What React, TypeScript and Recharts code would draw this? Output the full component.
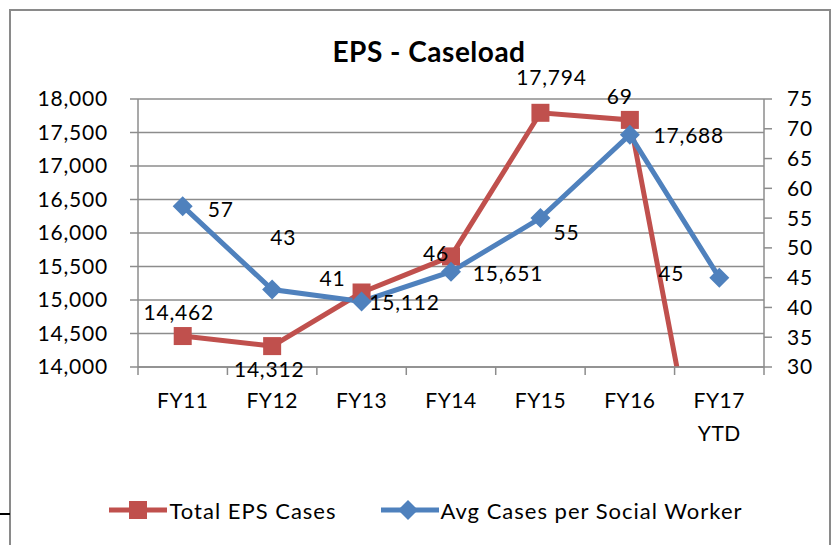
import React from 'react';
import { ComposedChart, Line, XAxis, YAxis, CartesianGrid, Legend, LabelList } from 'recharts';

const categories = ['FY11', 'FY12', 'FY13', 'FY14', 'FY15', 'FY16', 'FY17\nYTD'];
const totalEpsCases = [14462, 14312, 15112, 15651, 17794, 17688, 10670];
const avgCasesPerWorker = [57, 43, 41, 46, 55, 69, 45];
const leftTicks = [14000, 14500, 15000, 15500, 16000, 16500, 17000, 17500, 18000];
const rightTicks = [30, 35, 40, 45, 50, 55, 60, 65, 70, 75];
const boundaryTicks = [0, 1, 2, 3, 4, 5, 6, 7];

// label offsets (dx, dy) relative to each point, as placed in the original
const redLabelOffsets = [[-4, -25], [-3, 22], [43, 9], [57, 16], [11, -36], [59, 15], [0, 0]];
const blueLabelOffsets = [[38, 2], [11, -53], [-29, -24], [-15, -19], [26, 13], [-10, -39], [-48, -5]];

const RED = '#C0504D';
const BLUE = '#4F81BD';
const GRID = '#8c8c8c';
const FONT = 'Lato, "Open Sans", sans-serif';
const EPS_DOMAIN: [number, number] = [14000, 18000];

const data = categories.map((c, i) => ({
  name: c,
  idx: i + 0.5,
  eps: totalEpsCases[i],
  avg: avgCasesPerWorker[i],
}));

const fmt = (v: number) => v.toLocaleString('en-US');

const SquareDot = (props: any) => {
  const { cx, cy } = props;
  if (cx == null || cy == null) return <g />;
  return <rect x={cx - 9} y={cy - 9} width={18} height={18} fill={RED} />;
};

const DiamondDot = (props: any) => {
  const { cx, cy } = props;
  if (cx == null || cy == null) return <g />;
  return <polygon points={`${cx},${cy - 10} ${cx + 10},${cy} ${cx},${cy + 10} ${cx - 10},${cy}`} fill={BLUE} />;
};

const makeLabel = (offsets: number[][], check?: (v: number) => boolean) => (props: any) => {
  const { x, y, value, index } = props;
  if (check && !check(value)) return <g />;
  const [dx, dy] = offsets[index] || [0, 0];
  return (
    <text x={x + dx} y={y + dy} textAnchor="middle" dominantBaseline="central" fontFamily={FONT} fontSize={21} letterSpacing={0.8} fill="#000">
      {fmt(value)}
    </text>
  );
};

const CategoryTick = (props: any) => {
  const { x, y, payload } = props;
  const lines = String(payload.value).split('\n');
  return (
    <text x={x} y={y} textAnchor="middle" fontFamily={FONT} fontSize={21} letterSpacing={0.5} fill="#000">
      {lines.map((l, i) => (
        <tspan key={i} x={x} dy={i === 0 ? '0.71em' : 33}>{l}</tspan>
      ))}
    </text>
  );
};

const EmptyTick = () => <g />;

const LegendContent = () => (
  <div style={{ height: 40, display: 'flex', alignItems: 'center', justifyContent: 'center', paddingLeft: 17, fontFamily: FONT, fontSize: 22, letterSpacing: 1, color: '#000' }}>
    <div style={{ display: 'flex', alignItems: 'center', marginRight: 44 }}>
      <svg width={58} height={22} style={{ marginRight: 2 }}>
        <line x1={0} y1={11} x2={58} y2={11} stroke={RED} strokeWidth={5} />
        <rect x={20} y={2} width={18} height={18} fill={RED} />
      </svg>
      <span>Total EPS Cases</span>
    </div>
    <div style={{ display: 'flex', alignItems: 'center' }}>
      <svg width={58} height={22} style={{ marginRight: 2 }}>
        <line x1={0} y1={11} x2={58} y2={11} stroke={BLUE} strokeWidth={5} />
        <polygon points="27,1 37,11 27,21 17,11" fill={BLUE} />
      </svg>
      <span>Avg Cases per Social Worker</span>
    </div>
  </div>
);

export default function App() {
  return (
    <div style={{ position: 'absolute', left: 0, top: 0, width: 835, height: 545, background: '#fff', overflow: 'hidden' }}>
      <div style={{ position: 'absolute', left: 9, top: 9, width: 818, height: 536, borderTop: '2px solid #8a8a8a', borderLeft: '2px solid #8a8a8a', borderRight: '2px solid #8a8a8a' }} />
      <div style={{ position: 'absolute', left: 0, top: 513, width: 10, height: 2, background: '#000' }} />
      <div style={{ position: 'absolute', left: 0, top: 37, width: 858, textAlign: 'center', fontFamily: FONT, fontWeight: 700, fontSize: 28, lineHeight: '28px', letterSpacing: 0.5, color: '#000' }}>
        EPS - Caseload
      </div>
      <div style={{ position: 'absolute', left: 0, top: 0 }}>
        <ComposedChart width={835} height={545} data={data} margin={{ top: 99, right: 0, bottom: 15, left: 0 }}>
          <CartesianGrid yAxisId="left" xAxisId="b" vertical={false} stroke={GRID} strokeWidth={1.5} />
          <XAxis xAxisId="b" dataKey="name" type="category" scale="band" height={122} tick={<CategoryTick />} tickLine={false} axisLine={false} tickSize={0} tickMargin={25} interval={0} />
          <XAxis xAxisId="a" dataKey="idx" type="number" domain={[0, 7]} ticks={boundaryTicks} interval={0} height={1} tick={EmptyTick} tickSize={8} tickLine={{ stroke: GRID, strokeWidth: 1.5 }} axisLine={{ stroke: GRID, strokeWidth: 1.5 }} />
          <YAxis yAxisId="left" orientation="left" width={138} domain={EPS_DOMAIN} ticks={leftTicks} interval={0} allowDataOverflow tickFormatter={fmt} tickSize={8} tickMargin={22} tick={{ fontFamily: FONT, fontSize: 21, fill: '#000', letterSpacing: 0.8 } as any} tickLine={{ stroke: GRID, strokeWidth: 1.5 }} axisLine={{ stroke: GRID, strokeWidth: 1.5 }} />
          <YAxis yAxisId="right" orientation="right" width={71} domain={[30, 75]} ticks={rightTicks} interval={0} tickSize={8} tickMargin={15} tick={{ fontFamily: FONT, fontSize: 21, fill: '#000', letterSpacing: 0.8 } as any} tickLine={{ stroke: GRID, strokeWidth: 1.5 }} axisLine={{ stroke: GRID, strokeWidth: 1.5 }} />
          <Legend verticalAlign="bottom" content={<LegendContent />} />
          <Line xAxisId="b" yAxisId="left" dataKey="eps" name="Total EPS Cases" stroke={RED} strokeWidth={5} dot={<SquareDot />} activeDot={false} isAnimationActive={false}>
            <LabelList dataKey="eps" content={makeLabel(redLabelOffsets, (v) => v >= EPS_DOMAIN[0] && v <= EPS_DOMAIN[1])} />
          </Line>
          <Line xAxisId="b" yAxisId="right" dataKey="avg" name="Avg Cases per Social Worker" stroke={BLUE} strokeWidth={5} dot={<DiamondDot />} activeDot={false} isAnimationActive={false}>
            <LabelList dataKey="avg" content={makeLabel(blueLabelOffsets)} />
          </Line>
        </ComposedChart>
      </div>
    </div>
  );
}
